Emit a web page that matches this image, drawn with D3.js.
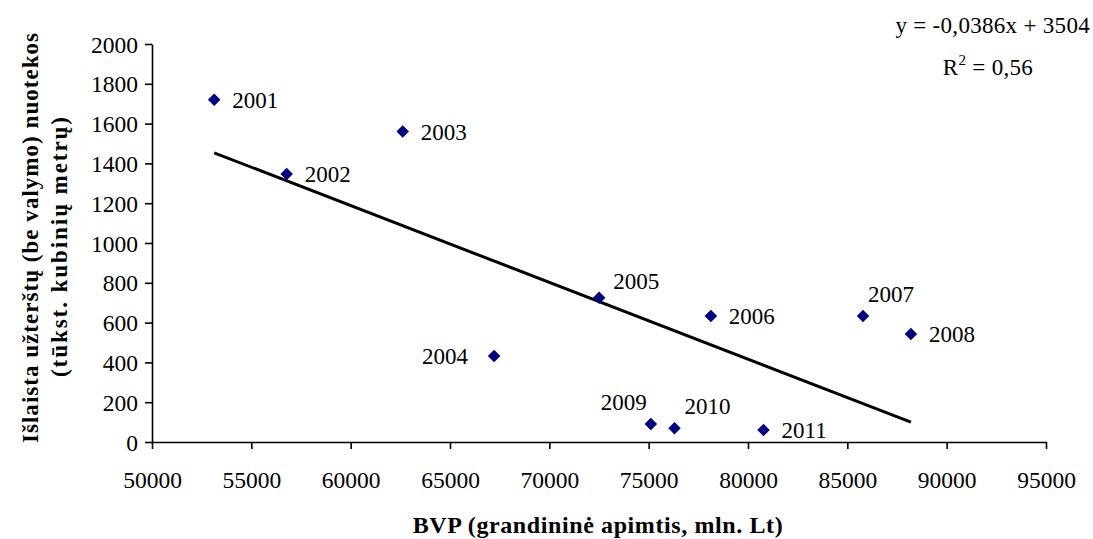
<!DOCTYPE html>
<html>
<head>
<meta charset="utf-8">
<script src="https://cdn.jsdelivr.net/npm/d3@7"></script>
<style>
  html, body { margin: 0; padding: 0; background: #fff; }
  svg { display: block; font-family: "Liberation Serif", "Times New Roman", serif; }
</style>
</head>
<body>
<svg id="chart" width="1093" height="539"></svg>
<script>
// GDP (chain-linked, mln. Lt) vs. untreated polluted wastewater discharged
const years = ["2001","2002","2003","2004","2005","2006","2007","2008","2009","2010","2011"];
const gdp = [53130, 56780, 62620, 67220, 72510, 78130, 85790, 88200, 75110, 76300, 80780];
const wastewater = [1720, 1347, 1560, 432, 725, 633, 633, 543, 90, 69, 60];
// label placement relative to each marker: [dx, dy, anchor]
const labelPos = [
  [18, 8, "start"], [18, 8, "start"], [18, 8, "start"], [-26, 8, "end"],
  [14, -9, "start"], [18, 8, "start"], [5, -14, "start"], [18, 8, "start"],
  [-4, -14, "end"], [10, -14, "start"], [18, 8, "start"]
];
const xTicks = [50000, 55000, 60000, 65000, 70000, 75000, 80000, 85000, 90000, 95000];
const yTicks = [0, 200, 400, 600, 800, 1000, 1200, 1400, 1600, 1800, 2000];
const slope = -0.0386, intercept = 3504, r2 = "0,56";

const svg = d3.select("#chart");
const x = d3.scaleLinear().domain([50000, 95000]).range([152, 1046]);
const y = d3.scaleLinear().domain([0, 2000]).range([442, 44]);

// axes
const xAxis = svg.append("g").attr("transform", `translate(0,${y(0)})`)
  .call(d3.axisBottom(x).tickValues(xTicks).tickSize(7).tickSizeOuter(0).tickFormat(d3.format("d")));
const yAxis = svg.append("g").attr("transform", `translate(${x(50000)},0)`)
  .call(d3.axisLeft(y).tickValues(yTicks).tickSize(7).tickSizeOuter(0).tickFormat(d3.format("d")));
[xAxis, yAxis].forEach(g => {
  g.select(".domain").attr("stroke", "#000").attr("stroke-width", 1.6);
  g.selectAll(".tick line").attr("stroke", "#000").attr("stroke-width", 1.6);
  g.selectAll(".tick text").attr("fill", "#000")
    .style("font-family", "Liberation Serif").style("font-size", "23.5px");
});
xAxis.selectAll(".tick text").attr("y", 46).attr("dy", 0);
yAxis.selectAll(".tick text").attr("x", -14).attr("dy", "0.34em");

// trend line across the data range
const xs = d3.extent(gdp);
svg.append("line")
  .attr("x1", x(xs[0])).attr("y1", y(slope * xs[0] + intercept))
  .attr("x2", x(xs[1])).attr("y2", y(slope * xs[1] + intercept))
  .attr("stroke", "#000").attr("stroke-width", 3);

// markers
const diamond = d3.symbol().type(d3.symbolDiamond2).size(100);
svg.append("g").selectAll("path").data(years).join("path")
  .attr("d", diamond)
  .attr("transform", (d, i) => `translate(${x(gdp[i])},${y(wastewater[i])})`)
  .attr("fill", "#000080");

// year labels
svg.append("g").selectAll("text").data(years).join("text")
  .attr("x", (d, i) => x(gdp[i]) + labelPos[i][0])
  .attr("y", (d, i) => y(wastewater[i]) + labelPos[i][1])
  .attr("text-anchor", (d, i) => labelPos[i][2])
  .style("font-size", "23px")
  .text(d => d);

// regression equation
svg.append("text").attr("x", 1090).attr("y", 33).attr("text-anchor", "end")
  .style("font-size", "23px").style("letter-spacing", "0.3px")
  .text(`y = ${String(slope).replace(".", ",")}x + ${intercept}`);
const r = svg.append("text").attr("x", 988).attr("y", 75).attr("text-anchor", "middle")
  .style("font-size", "23px").style("letter-spacing", "0.3px");
r.append("tspan").text("R");
r.append("tspan").attr("dy", -10).style("font-size", "15px").text("2");
r.append("tspan").attr("dy", 10).text(` = ${r2}`);

// axis titles
svg.append("text").attr("x", 598).attr("y", 533).attr("text-anchor", "middle")
  .style("font-size", "24px").style("font-weight", "bold").style("letter-spacing", "0.6px")
  .text("BVP (grandininė apimtis, mln. Lt)");
const yt = svg.append("g");
yt.append("text").attr("transform", "translate(38,443) rotate(-90)").attr("text-anchor", "start")
  .attr("textLength", 410).attr("lengthAdjust", "spacing")
  .style("font-size", "23px").style("font-weight", "bold")
  .text("Išlaista užterštų (be valymo) nuotekos");
yt.append("text").attr("transform", "translate(67,377) rotate(-90)").attr("text-anchor", "start")
  .attr("textLength", 260).attr("lengthAdjust", "spacing")
  .style("font-size", "23px").style("font-weight", "bold")
  .text("(tūkst. kubinių metrų)");
</script>
</body>
</html>
